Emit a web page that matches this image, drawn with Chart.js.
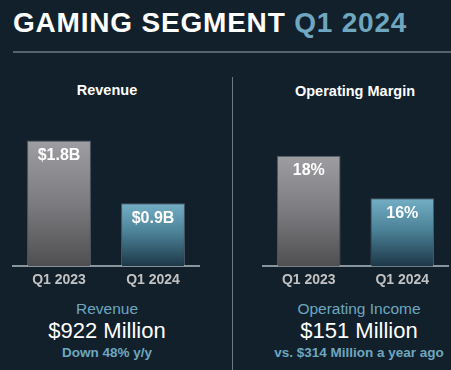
<!DOCTYPE html>
<html>
<head>
<meta charset="utf-8">
<script src="https://cdn.jsdelivr.net/npm/chart.js@4"></script>
<style>
  html, body { margin:0; padding:0; }
  body { width:451px; height:370px; background:#12202c; position:relative; overflow:hidden;
         font-family:"Liberation Sans", Arial, sans-serif; }
  .abs { position:absolute; white-space:nowrap; }
  #title { left:13px; top:9px; font-size:28px; line-height:28px; letter-spacing:0.8px; font-weight:bold; color:#fff; }
  #title span { color:#6ea7bf; }
  #hline { left:13px; top:51px; width:438px; height:2px; background:#57626c; }
  #vline { left:232px; top:77px; width:1px; height:293px; background:#6f787f; }
  .head { font-size:14.5px; line-height:14.5px; font-weight:bold; color:#fff; transform:translateX(-50%); }
  .sub { font-size:15.5px; line-height:15.5px; color:#6ea7bf; transform:translateX(-50%); }
  .big { font-size:22px; line-height:22px; color:#fff; transform:translateX(-50%); }
  .note { font-size:13.5px; line-height:13.5px; font-weight:bold; color:#6ea7bf; transform:translateX(-50%); }
  .box { position:absolute; }
</style>
</head>
<body>
<div id="title" class="abs">GAMING SEGMENT <span>Q1 2024</span></div>
<div id="hline" class="abs"></div>
<div id="vline" class="abs"></div>

<div class="abs head" style="left:107px;top:83px;">Revenue</div>
<div class="abs head" style="left:355px;top:84px;">Operating Margin</div>

<div class="box" style="left:12px;top:99px;width:188px;height:196px;"><canvas id="revChart"></canvas></div>
<div class="box" style="left:262px;top:99px;width:187px;height:196px;"><canvas id="marginChart"></canvas></div>

<div class="abs sub" style="left:107px;top:301px;">Revenue</div>
<div class="abs big" style="left:107px;top:320px;">$922 Million</div>
<div class="abs note" style="left:107px;top:346px;">Down 48% y/y</div>

<div class="abs sub" style="left:359px;top:301px;">Operating Income</div>
<div class="abs big" style="left:359px;top:320px;">$151 Million</div>
<div class="abs note" style="left:359px;top:346px;">vs. $314 Million a year ago</div>

<script>
const quarters = ["Q1 2023", "Q1 2024"];
const revenue = [1.8, 0.9];          // $B
const revenueLabels = ["$1.8B", "$0.9B"];
const margin = [18, 16];             // %
const marginLabels = ["18%", "16%"];

// each bar gets its own top-to-bottom gradient
function barFill(ctx){
  const chart = ctx.chart;
  const area = chart.chartArea;
  if (!area || ctx.type !== "data") return "#888";
  const top = chart.scales.y.getPixelForValue(ctx.raw);
  const g = chart.ctx.createLinearGradient(0, top, 0, area.bottom);
  if (ctx.dataIndex === 0) {
    g.addColorStop(0, "#9e9ea2");
    g.addColorStop(0.5, "#7c7c80");
    g.addColorStop(1, "#4f4f51");
  } else {
    g.addColorStop(0, "#74afc6");
    g.addColorStop(0.45, "#4d8399");
    g.addColorStop(1, "#1d3848");
  }
  return g;
}

const insideLabels = {
  id: "insideLabels",
  afterDatasetsDraw(chart, args, opts){
    const c = chart.ctx;
    const meta = chart.getDatasetMeta(0);
    c.save();
    c.fillStyle = "#ffffff";
    c.font = "bold 16px 'Liberation Sans', Arial, sans-serif";
    c.textAlign = "center";
    c.textBaseline = "middle";
    meta.data.forEach((bar, i) => {
      c.fillText(opts.labels[i], bar.x, bar.y + 15);
    });
    c.restore();
  }
};

function makeChart(id, values, labels, yMin, yMax){
  new Chart(document.getElementById(id), {
    type: "bar",
    data: {
      labels: quarters,
      datasets: [{
        data: values,
        backgroundColor: barFill,
        borderColor: "rgba(190,200,210,0.35)",
        borderWidth: 1,
        borderSkipped: "bottom",
        categoryPercentage: 1,
        barPercentage: 0.68
      }]
    },
    options: {
      responsive: true,
      maintainAspectRatio: false,
      animation: false,
      layout: { padding: 0 },
      plugins: {
        legend: { display: false },
        tooltip: { enabled: false },
        insideLabels: { labels }
      },
      scales: {
        x: {
          grid: { display: false, drawTicks: false },
          border: { color: "#8a949c", width: 2 },
          ticks: { color: "#c2c2c2", padding: 6, font: { size: 14, weight: "bold", family: "'Liberation Sans', Arial, sans-serif" } }
        },
        y: { display: false, min: yMin, max: yMax }
      }
    },
    plugins: [insideLabels]
  });
}

makeChart("revChart", revenue, revenueLabels, 0, 2.395);
makeChart("marginChart", margin, marginLabels, 12.8, 20.67);
</script>
</body>
</html>
